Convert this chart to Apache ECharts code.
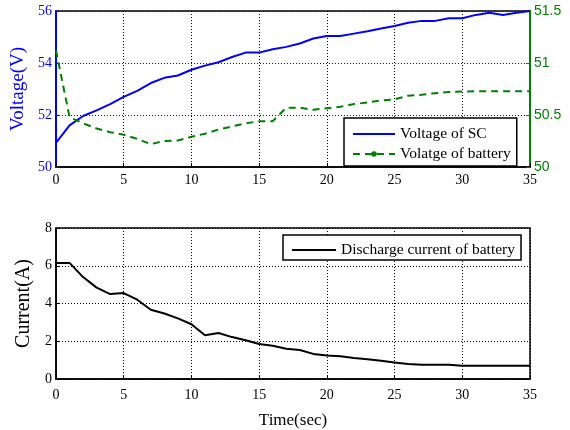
<!DOCTYPE html>
<html>
<head>
<meta charset="utf-8">
<script src="https://cdn.jsdelivr.net/npm/echarts@6/dist/echarts.min.js"></script>
<style>html,body{margin:0;padding:0;background:#fff}#c{width:570px;height:430px}</style>
</head>
<body>
<div id="c"></div>
<script>
var time = [0,1,2,3,4,5,6,7,8,9,10,11,12,13,14,15,16,17,18,19,20,21,22,23,24,25,26,27,28,29,30,31,32,33,34,35];
var scVoltage = [50.93,51.6,51.96,52.18,52.42,52.7,52.93,53.23,53.43,53.52,53.74,53.9,54.03,54.23,54.4,54.4,54.53,54.62,54.75,54.94,55.04,55.04,55.13,55.22,55.33,55.42,55.55,55.62,55.62,55.72,55.72,55.85,55.93,55.85,55.93,56.0];
var batteryVoltage = [51.12,50.48,50.42,50.37,50.335,50.31,50.27,50.22,50.25,50.255,50.29,50.32,50.36,50.39,50.42,50.44,50.44,50.57,50.57,50.55,50.565,50.58,50.605,50.62,50.64,50.65,50.685,50.695,50.71,50.72,50.725,50.728,50.728,50.728,50.728,50.728];
var current = [6.15,6.15,5.4,4.84,4.5,4.55,4.2,3.67,3.47,3.21,2.9,2.32,2.44,2.22,2.05,1.85,1.76,1.6,1.54,1.33,1.25,1.2,1.11,1.04,0.97,0.87,0.8,0.75,0.75,0.75,0.7,0.7,0.7,0.7,0.7,0.7];
var xTicks = [0,5,10,15,20,25,30,35];

function pairs(ys){ return time.map(function(t,i){ return [t, ys[i]]; }); }
var serif = 'Liberation Serif';
var sans = 'Liberation Sans';
var hidden = {color:'rgba(0,0,0,0)', borderColor:'rgba(0,0,0,0)', borderWidth:0, opacity:0};

var chart = echarts.init(document.getElementById('c'), null, {renderer:'canvas'});
chart.setOption({
  animation: false,
  backgroundColor: '#fff',
  grid: [
    {left:56, right:40, top:11, height:156, show:true, borderColor:'#000', borderWidth:1.5, backgroundColor:'transparent'},
    {left:56, right:40, top:228, height:156, show:true, borderColor:'#000', borderWidth:1.5, backgroundColor:'transparent'}
  ],
  legend: [
    {
      data: [{name:'Voltage of SC', itemStyle:hidden}, {name:'Volatge of battery'}],
      orient: 'vertical', left: 344, top: 118,
      itemWidth: 42, itemHeight: 7, itemGap: 4,
      padding: [8, 6, 4, 8],
      borderColor: '#000', borderWidth: 1.5, backgroundColor: '#fff',
      textStyle: {fontFamily: serif, fontSize: 15.5, color: '#000'}
    },
    {
      data: [{name:'Discharge current of battery', itemStyle:hidden}],
      orient: 'vertical', left: 283, top: 235,
      itemWidth: 44, itemHeight: 6,
      padding: [7, 6, 2, 8],
      borderColor: '#000', borderWidth: 1.5, backgroundColor: '#fff',
      textStyle: {fontFamily: serif, fontSize: 15.5, color: '#000'}
    }
  ],
  xAxis: [
    {type:'value', gridIndex:0, min:0, max:35, interval:5,
     axisLine:{show:true, lineStyle:{color:'#000', width:1.5}},
     axisTick:{show:true, inside:true, length:4, lineStyle:{color:'#000'}},
     axisLabel:{color:'#000', fontFamily:serif, fontSize:14, margin:6},
     splitLine:{show:true, lineStyle:{color:'#000', type:[1,2], width:1}}},
    {type:'value', gridIndex:1, min:0, max:35, interval:5,
     name:'Time(sec)', nameLocation:'middle', nameGap:33,
     nameTextStyle:{color:'#000', fontFamily:serif, fontSize:17},
     axisLine:{show:true, lineStyle:{color:'#000', width:1.5}},
     axisTick:{show:true, inside:true, length:4, lineStyle:{color:'#000'}},
     axisLabel:{color:'#000', fontFamily:serif, fontSize:14, margin:9},
     splitLine:{show:true, lineStyle:{color:'#000', type:[1,2], width:1}}}
  ],
  yAxis: [
    {type:'value', gridIndex:0, min:50, max:56, interval:2, position:'left',
     name:'Voltage(V)', nameLocation:'middle', nameGap:27,
     nameTextStyle:{color:'#0000ff', fontFamily:serif, fontSize:19},
     axisLine:{show:true, lineStyle:{color:'#0000ff', width:2}},
     axisTick:{show:true, inside:true, length:4, lineStyle:{color:'#0000ff'}},
     axisLabel:{color:'#0000ff', fontFamily:serif, fontSize:14, margin:4},
     splitLine:{show:true, lineStyle:{color:'#0000ff', type:[1,2], width:1}}},
    {type:'value', gridIndex:0, min:50, max:51.5, interval:0.5, position:'right',
     axisLine:{show:true, lineStyle:{color:'#008000', width:2}},
     axisTick:{show:true, inside:true, length:4, lineStyle:{color:'#008000'}},
     axisLabel:{color:'#008000', fontFamily:sans, fontSize:14, margin:4},
     splitLine:{show:false}},
    {type:'value', gridIndex:1, min:0, max:8, interval:2,
     name:'Current(A)', nameLocation:'middle', nameGap:19,
     nameTextStyle:{color:'#000', fontFamily:serif, fontSize:20},
     axisLine:{show:true, lineStyle:{color:'#000', width:1.5}},
     axisTick:{show:true, inside:true, length:4, lineStyle:{color:'#000'}},
     axisLabel:{color:'#000', fontFamily:serif, fontSize:14, margin:4},
     splitLine:{show:true, lineStyle:{color:'#000', type:[1,2], width:1}}}
  ],
  series: [
    {name:'Voltage of SC', type:'line', xAxisIndex:0, yAxisIndex:0, data:pairs(scVoltage),
     symbol:'none', lineStyle:{color:'#0000ff', width:2}, itemStyle:{color:'#0000ff'}},
    {name:'Volatge of battery', type:'line', xAxisIndex:0, yAxisIndex:1, data:pairs(batteryVoltage),
     symbol:'circle', symbolSize:5, showSymbol:false,
     lineStyle:{color:'#008000', width:2, type:[7,5]}, itemStyle:{color:'#008000'}},
    {name:'Discharge current of battery', type:'line', xAxisIndex:1, yAxisIndex:2, data:pairs(current),
     symbol:'none', lineStyle:{color:'#000', width:2}, itemStyle:{color:'#000'}}
  ]
});
</script>
</body>
</html>
